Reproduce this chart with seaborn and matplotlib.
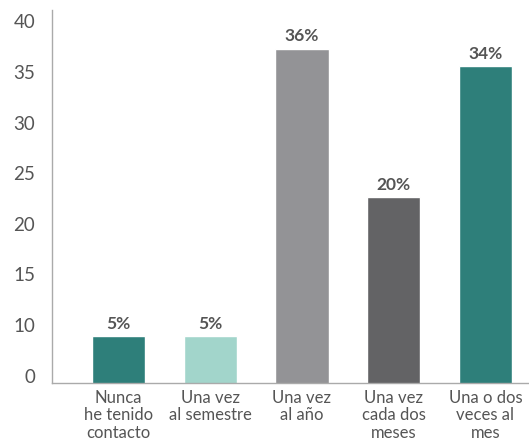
import matplotlib
matplotlib.use("Agg")
import matplotlib.pyplot as plt
import seaborn as sns
import pandas as pd

# categories and values
categories = ["Nunca\nhe tenido\ncontacto", "Una vez\nal semestre", "Una vez\nal año",
              "Una vez\ncada dos\nmeses", "Una o dos\nveces al\nmes"]
bar_heights = [8.9, 8.9, 37.3, 22.6, 35.6]   # height on the drawn axis
bar_labels = ["5%", "5%", "36%", "20%", "34%"]
bar_colors = ["#2E7F7A", "#A2D5CB", "#939396", "#636365", "#2E7F7A"]
ytick_pos = [5, 10, 15, 20, 25, 30, 35, 40]
ytick_labels = ["0", "10", "15", "20", "25", "30", "35", "40"]

sns.set_style("white")
plt.rcParams["font.family"] = ["Lato", "DejaVu Sans"]

df = pd.DataFrame({"cat": categories, "val": bar_heights})

fig = plt.figure(figsize=(5.29, 4.42), dpi=100)
ax = fig.add_axes([0.098, 0.134, 0.902, 0.843])

sns.barplot(data=df, x="cat", y="val", hue="cat", palette=bar_colors,
            legend=False, width=0.58, ax=ax, saturation=1)

for i, (h, lab) in enumerate(zip(bar_heights, bar_labels)):
    ax.annotate(lab, (i, h), xytext=(0, 3), textcoords="offset points",
                ha="center", va="bottom", fontsize=12.5, fontweight="bold",
                color="#555555")

ax.set_ylim(4.3, 41.1)
ax.set_xlim(-0.725, 4.474)
ax.set_yticks(ytick_pos)
ax.set_yticklabels(ytick_labels)
ax.tick_params(axis="y", length=0, pad=12, labelsize=13.5, labelcolor="#555555")
ax.tick_params(axis="x", length=0, pad=5, labelsize=12, labelcolor="#555555")
for t in ax.get_xticklabels():
    t.set_linespacing(1.12)
ax.set_xlabel("")
ax.set_ylabel("")

for side in ["top", "right"]:
    ax.spines[side].set_visible(False)
for side in ["left", "bottom"]:
    ax.spines[side].set_color("#AAAAAA")
    ax.spines[side].set_linewidth(1)

plt.savefig("out.png", dpi=100)
